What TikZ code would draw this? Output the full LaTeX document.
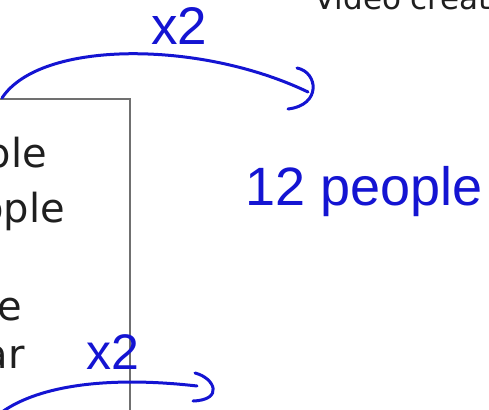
\documentclass[tikz,border=0pt]{standalone}
\usepackage{fontspec}
\setmainfont{DejaVu Sans}
\newfontfamily\handfont{Liberation Sans}
\definecolor{pen}{RGB}{20,20,210}
\definecolor{frame}{RGB}{112,112,112}
\tikzset{
  ink/.style={draw=pen,line width=3pt,line cap=round,line join=round},
  slide/.style={text=black!88,font=\fontsize{40}{40}\selectfont,inner sep=0pt,anchor=base east},
  scrawl/.style={text=pen,font=\handfont\fontsize{53}{53}\selectfont,inner sep=0pt,anchor=base west}
}
\begin{document}
\begin{tikzpicture}[x=1pt,y=-1pt]
\useasboundingbox (0,0) rectangle (489,409);
\clip (0,0) rectangle (489,409);
% Coordinates
\coordinate (box-left) at (-10,99);
\coordinate (box-corner) at (130,99);
\coordinate (box-foot) at (130,420);
\coordinate (top-start) at (2,98);
\coordinate (top-end) at (308,92);
\coordinate (low-start) at (2,412);
\coordinate (low-end) at (197,386);
% Slide box and its text
\draw[frame,line width=1.4pt] (box-left) -- (box-corner) -- (box-foot);
\node[slide] (row-a) at (47,167) {ple};
\node[slide] (row-b) at (65,222) {ople};
\node[slide] (row-c) at (22,320) {e};
\node[slide] (row-d) at (25,368) {ar};
\node[slide,anchor=base west,font=\fontsize{31}{31}\selectfont] (credit) at (314,10) {Video creat};
% Handwriting
\node[scrawl] (times-top) at (151,45) {x2};
\node[scrawl,font=\handfont\fontsize{50}{50}\selectfont] (times-low) at (86,369) {x2};
\node[scrawl,font=\handfont\fontsize{54}{54}\selectfont] (total) at (245,205) {12 people};
% Arcs with hand drawn heads
\draw[ink] (top-start) .. controls (40,40) and (200,40) .. (top-end);
\draw[ink] ([shift={(-11,-24)}]top-end) .. controls ([shift={(10,-20)}]top-end) and ([shift={(14,13)}]top-end) .. ([shift={(-20,17)}]top-end);
\draw[ink] (low-start) .. controls (40,385) and (110,376) .. (low-end);
\draw[ink] ([shift={(-2,-13)}]low-end) .. controls ([shift={(18,-8)}]low-end) and ([shift={(27,14)}]low-end) .. ([shift={(-4,15)}]low-end);
\end{tikzpicture}
\end{document}
